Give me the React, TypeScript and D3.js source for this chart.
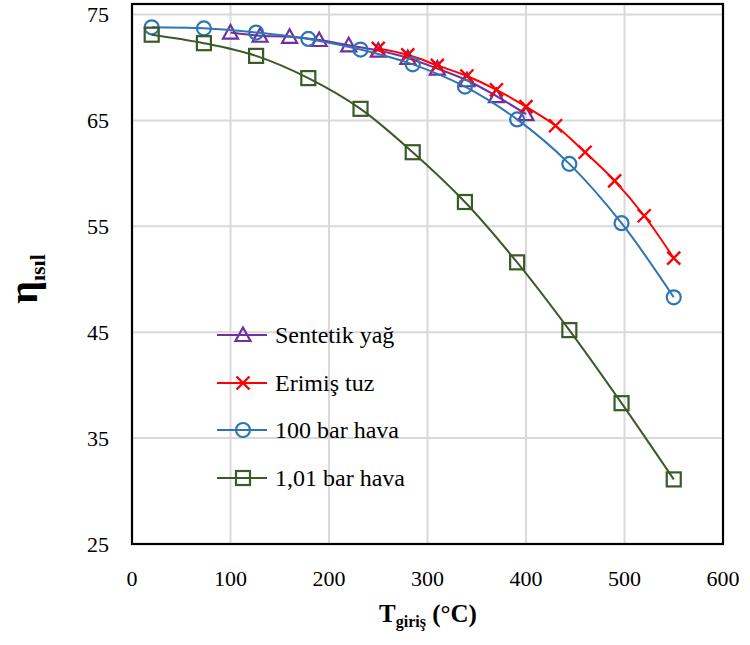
import React from "react";
import * as d3 from "d3";

const W = 750;
const H = 645;

const seriesNames = ["Sentetik yağ", "Erimiş tuz", "100 bar hava", "1,01 bar hava"];
const seriesColors = ["#7030A0", "#FF0000", "#2E75B6", "#3A5A27"];
const seriesMarkers = ["triangle", "x", "circle", "square"];

const oilT = [100, 130, 160, 190, 220, 250, 280, 310, 340, 370, 400];
const oilEta = [73.3, 73.0, 72.9, 72.6, 72.1, 71.6, 70.9, 69.9, 68.8, 67.3, 65.6];

const saltT = [250, 280, 310, 340, 370, 400, 430, 460, 490, 520, 550];
const saltEta = [71.8, 71.2, 70.2, 69.2, 67.9, 66.3, 64.5, 62.0, 59.3, 56.0, 52.0];

const airT = [20, 73, 126, 179, 232, 285, 338, 391, 444, 497, 550];
const air100Eta = [73.8, 73.7, 73.3, 72.7, 71.7, 70.3, 68.2, 65.1, 60.9, 55.3, 48.3];
const air101Eta = [73.1, 72.3, 71.1, 69.0, 66.1, 62.0, 57.3, 51.6, 45.2, 38.3, 31.1];

const xTicks = [0, 100, 200, 300, 400, 500, 600];
const yTicks = [25, 35, 45, 55, 65, 75];

const series = [
  { x: oilT, y: oilEta },
  { x: saltT, y: saltEta },
  { x: airT, y: air100Eta },
  { x: airT, y: air101Eta },
];

const PL = 132, PR = 723, PT = 4, PB = 544;

const xScale = d3.scaleLinear().domain([0, 600]).range([PL, PR]);
const yScale = d3.scaleLinear().domain([25, 76]).range([PB, PT]);

const FONT = "Liberation Serif";

function Marker({ type, cx, cy, color }: { type: string; cx: number; cy: number; color: string }) {
  const sw = 2.2;
  if (type === "circle") {
    return <circle cx={cx} cy={cy} r={7} fill="none" stroke={color} strokeWidth={sw} />;
  }
  if (type === "square") {
    return <rect x={cx - 7} y={cy - 7} width={14} height={14} fill="none" stroke={color} strokeWidth={sw} />;
  }
  if (type === "triangle") {
    const s = 7.5;
    const p = `M${cx},${cy - s} L${cx + s},${cy + s * 0.8} L${cx - s},${cy + s * 0.8} Z`;
    return <path d={p} fill="none" stroke={color} strokeWidth={sw} />;
  }
  const s = 6.5;
  return (
    <path
      d={`M${cx - s},${cy - s} L${cx + s},${cy + s} M${cx - s},${cy + s} L${cx + s},${cy - s}`}
      stroke={color}
      strokeWidth={2.4}
      fill="none"
    />
  );
}

export default function App() {
  const line = d3
    .line<[number, number]>()
    .x((d) => xScale(d[0]))
    .y((d) => yScale(d[1]))
    .curve(d3.curveCatmullRom.alpha(0.5));

  const legendY = [335, 383, 430, 478];
  const ts: React.CSSProperties = { fontFamily: FONT };

  return (
    <svg width={W} height={H} style={{ position: "absolute", left: 0, top: 0, background: "#fff" }}>
      <rect x={0} y={0} width={W} height={H} fill="#fff" />
      {/* grid */}
      {xTicks.slice(1, -1).map((t) => (
        <line key={"gx" + t} x1={xScale(t)} x2={xScale(t)} y1={PT} y2={PB} stroke="#D9D9D9" strokeWidth={2} />
      ))}
      {yTicks.map((t) => (
        <line key={"gy" + t} x1={PL} x2={PR} y1={yScale(t)} y2={yScale(t)} stroke="#D9D9D9" strokeWidth={2} />
      ))}

      {/* series */}
      {series.map((s, i) => {
        const pts: [number, number][] = s.x.map((v, j) => [v, s.y[j]]);
        return (
          <g key={"s" + i}>
            <path d={line(pts) || ""} fill="none" stroke={seriesColors[i]} strokeWidth={2} />
            {pts.map((p, j) => (
              <Marker key={j} type={seriesMarkers[i]} cx={xScale(p[0])} cy={yScale(p[1])} color={seriesColors[i]} />
            ))}
          </g>
        );
      })}

      {/* border */}
      <rect x={PL} y={PT} width={PR - PL} height={PB - PT} fill="none" stroke="#000" strokeWidth={2.2} />

      {/* y tick labels */}
      {yTicks.map((t) => (
        <text key={"yl" + t} x={109} y={yScale(t) + 7.5} textAnchor="end" fontSize={22} fill="#000" style={ts}>
          {t}
        </text>
      ))}
      {/* x tick labels */}
      {xTicks.map((t) => (
        <text key={"xl" + t} x={xScale(t)} y={586} textAnchor="middle" fontSize={22} fill="#000" style={ts}>
          {t}
        </text>
      ))}

      {/* axis titles */}
      <text x={428} y={622} textAnchor="middle" fontSize={25} fontWeight="bold" fill="#000" style={ts}>
        T<tspan fontSize={16} dy={5}>giriş</tspan>
        <tspan dy={-5}> (°C)</tspan>
      </text>
      <text
        transform={`translate(37, 279) rotate(-90)`}
        textAnchor="middle"
        fontSize={40}
        fontWeight="bold"
        fill="#000"
        style={ts}
      >
        η<tspan fontSize={22} dy={8}>ısıl</tspan>
      </text>

      {/* legend */}
      {seriesNames.map((n, i) => (
        <g key={"lg" + i}>
          <line x1={217} x2={267} y1={legendY[i]} y2={legendY[i]} stroke={seriesColors[i]} strokeWidth={2} />
          <Marker type={seriesMarkers[i]} cx={243} cy={legendY[i]} color={seriesColors[i]} />
          <text x={275} y={legendY[i] + 8} fontSize={24} fill="#000" style={ts}>
            {n}
          </text>
        </g>
      ))}
    </svg>
  );
}
